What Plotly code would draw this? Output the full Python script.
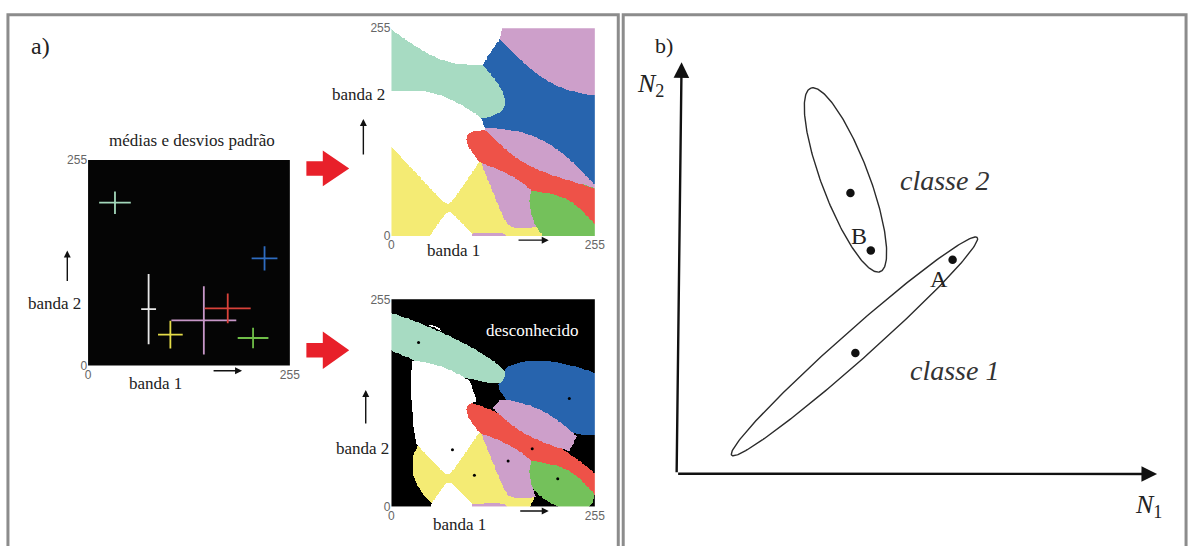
import numpy as np
import plotly.graph_objects as go

W, H = 1201, 546


def px(x):
    return x / W


def py(y):
    return 1 - y / H


# ---------------- Painel a: classes nas bandas 1 e 2 (0-255) ----------------
classes = ["verde-claro", "azul", "branco", "amarelo", "rosa", "vermelho", "verde"]
mean_b1 = [34.0, 223.0, 76.5, 104.0, 146.3, 176.5, 208.5]
mean_b2 = [202.0, 133.0, 70.0, 38.4, 56.0, 71.0, 34.2]
# desvios padrão mostrados pelas cruzes
cross_b1 = [20.0, 16.3, 9.4, 15.6, 41.0, 29.0, 19.4]
cross_b2 = [13.9, 15.1, 43.5, 17.3, 42.3, 18.5, 12.7]
# covariância de cada classe: desvios principais e orientação (graus)
sd_major = [40.3, 30.8, 52.0, 26.7, 48.3, 38.0, 17.6]
sd_minor = [7.5, 13.3, 14.5, 19.3, 19.3, 6.5, 10.0]
angle_deg = [-22, -16, 101, -20, 52, -30, -36]
threshold_sd = 3.0
band_ticks = [0, 255]

region_colors = ["#a7dbc2", "#2764ae", "#ffffff", "#f4eb74", "#cd9fca", "#ee5248", "#74c15b"]
unknown_color = "#000000"
cross_colors = ["#a3d8bb", "#2f6cc0", "#e8e8e8", "#e4dc48", "#c797c8", "#d9423a", "#6fbe48"]

# ---------------- Painel b ----------------
b_names = ["classe 2", "classe 1"]
b_cx = [170.7, 179.8]
b_cy = [301.5, 130.7]
b_a = [100.5, 167.0]
b_b = [24.0, 15.0]
b_ang = [110.4, 42.0]
b_label_x = [270.7, 280.7]
b_label_y = [300.7, 105.7]
pt_names = ["B", "A"]
pt_x = [175.7, 196.3, 279.0, 180.7]
pt_y = [288.0, 229.0, 219.7, 124.0]
pt_label_x = [184.0, 265.7]
pt_label_y = [244.0, 199.7]

# ---------------- classificação por máxima verossimilhança ----------------
grid = np.arange(256)
GX, GY = np.meshgrid(grid, grid)
scores, d2s = [], []
for i in range(len(classes)):
    th = np.radians(angle_deg[i])
    dx = GX - mean_b1[i]
    dy = GY - mean_b2[i]
    u = dx * np.cos(th) + dy * np.sin(th)
    v = -dx * np.sin(th) + dy * np.cos(th)
    d2 = (u / sd_major[i]) ** 2 + (v / sd_minor[i]) ** 2
    logdet = 2 * np.log(sd_major[i] * sd_minor[i])
    scores.append(-logdet - d2)
    d2s.append(d2)
scores = np.array(scores)
d2s = np.array(d2s)
ml = scores.argmax(0)
win_d2 = np.take_along_axis(d2s, ml[None], 0)[0]
ml_thr = np.where(win_d2 <= threshold_sd ** 2, ml, len(classes))

cols8 = region_colors + [unknown_color]
n = len(cols8)
cscale = []
for k, c in enumerate(cols8):
    cscale += [[k / n, c], [(k + 1) / n, c]]

fig = go.Figure()

for ax_x, ax_y, z in (("x2", "y2", ml), ("x3", "y3", ml_thr)):
    fig.add_trace(go.Heatmap(
        x=grid, y=grid, z=z, xaxis=ax_x, yaxis=ax_y,
        colorscale=cscale, zmin=-0.5, zmax=n - 0.5,
        showscale=False, hoverinfo="skip", zsmooth=False))

# médias nas regiões com limiar
fig.add_trace(go.Scatter(x=mean_b1, y=mean_b2, mode="markers", xaxis="x3", yaxis="y3",
                         marker=dict(size=3, color="#000"), hoverinfo="skip"))

# cruzes: médias e desvios padrão
for i in range(len(classes)):
    c = cross_colors[i]
    fig.add_trace(go.Scatter(
        x=[mean_b1[i]], y=[mean_b2[i]], mode="markers", xaxis="x", yaxis="y",
        marker=dict(size=2, color=c),
        error_x=dict(type="data", array=[cross_b1[i]], color=c, thickness=1.8, width=0),
        error_y=dict(type="data", array=[cross_b2[i]], color=c, thickness=1.8, width=0),
        hoverinfo="skip"))

# painel b: elipses
t = np.linspace(0, 2 * np.pi, 240)
for i in range(len(b_names)):
    th = np.radians(b_ang[i])
    ex = b_cx[i] + b_a[i] * np.cos(t) * np.cos(th) - b_b[i] * np.sin(t) * np.sin(th)
    ey = b_cy[i] + b_a[i] * np.cos(t) * np.sin(th) + b_b[i] * np.sin(t) * np.cos(th)
    fig.add_trace(go.Scatter(x=ex, y=ey, mode="lines", xaxis="x4", yaxis="y4",
                             line=dict(color="#2b2b2b", width=1.4), hoverinfo="skip"))
fig.add_trace(go.Scatter(x=pt_x, y=pt_y, mode="markers", xaxis="x4", yaxis="y4",
                         marker=dict(size=8.5, color="#111"), hoverinfo="skip"))

tickfont = dict(family="Liberation Sans", size=12, color="#666")
band_axis = dict(range=[0, 255], tickvals=band_ticks, ticktext=[str(v) for v in band_ticks],
                 showgrid=False, zeroline=False, showline=False, ticks="",
                 tickfont=tickfont, fixedrange=True)

layout = dict(
    width=W, height=H, margin=dict(l=0, r=0, t=0, b=0),
    paper_bgcolor="white", plot_bgcolor="rgba(0,0,0,0)", showlegend=False,
    xaxis=dict(band_axis, domain=[px(86), px(290)], anchor="y"),
    yaxis=dict(band_axis, domain=[py(368), py(157)], anchor="x"),
    xaxis2=dict(band_axis, domain=[px(392.7), px(598.3)], anchor="y2"),
    yaxis2=dict(band_axis, domain=[py(235), py(21.7)], anchor="x2"),
    xaxis3=dict(band_axis, domain=[px(392.7), px(598.3)], anchor="y3"),
    yaxis3=dict(band_axis, domain=[py(512.7), py(300)], anchor="x3"),
    xaxis4=dict(domain=[px(681), px(1167)], range=[0, 486], visible=False, anchor="y4"),
    yaxis4=dict(domain=[py(479), py(57)], range=[0, 422], visible=False, anchor="x4"),
)
fig.update_layout(**layout)

shapes = []
# molduras
for x0, x1 in ((5, 622), (627, 1196)):
    shapes.append(dict(type="rect", xref="paper", yref="paper", x0=px(x0), x1=px(x1),
                       y0=py(560), y1=py(8), line=dict(color="#8c8c8c", width=3),
                       fillcolor="rgba(0,0,0,0)"))
# fundo preto do gráfico das cruzes
shapes.append(dict(type="rect", xref="x domain", yref="y domain", x0=0, x1=1, y0=0, y1=1,
                   fillcolor="#050505", line=dict(width=0), layer="below"))


def block_arrow(x0, xs, xt, yc, sh, hh):
    pts = [(x0, yc - sh), (xs, yc - sh), (xs, yc - hh), (xt, yc), (xs, yc + hh), (xs, yc + sh), (x0, yc + sh)]
    d = "M " + " L ".join(f"{px(a):.5f},{py(b):.5f}" for a, b in pts) + " Z"
    return dict(type="path", xref="paper", yref="paper", path=d,
                fillcolor="#e8202a", line=dict(width=0))


shapes.append(block_arrow(306.7, 323.3, 350, 165.7, 7.5, 18.3))
shapes.append(block_arrow(306.7, 323.3, 350, 352.3, 7.5, 19.2))
fig.update_layout(shapes=shapes)

serif = "Liberation Serif"
ann = []


def text(x, y, s, size, color="#222", xanchor="center", family=serif):
    ann.append(dict(x=px(x), y=py(y), xref="paper", yref="paper", text=s, showarrow=False,
                    xanchor=xanchor, yanchor="middle", font=dict(family=family, size=size, color=color)))


def small_arrow(x0, y0, x1, y1):
    ann.append(dict(x=px(x1), y=py(y1), xref="paper", yref="paper", ax=x0 - x1, ay=y0 - y1,
                    text="", showarrow=True, arrowhead=2, arrowsize=1.0, arrowwidth=1.4,
                    arrowcolor="#111"))


text(37.5, 40, "a)", 24)
text(191.3, 137.5, "médias e desvios padrão", 17)
text(51.7, 304, "banda 2", 17)
text(154, 386, "banda 1", 17)
text(359, 90, "banda 2", 17)
text(455, 250, "banda 1", 17)
text(363, 453, "banda 2", 17)
text(462, 531, "banda 1", 17)
text(535, 331.7, "desconhecido", 17, color="#ffffff")
small_arrow(65, 282, 65, 250)
small_arrow(211.7, 373.3, 241.7, 373.3)
small_arrow(364.3, 152, 364.3, 115)
small_arrow(520, 239.3, 551.7, 239.3)
small_arrow(366.7, 428, 366.7, 393)
small_arrow(521.7, 517.3, 551.7, 517.3)

# painel b
text(668, 40, "b)", 22)
text(655, 80, "<i>N</i><sub>2</sub>", 26)
text(1158, 512, "<i>N</i><sub>1</sub>", 26)
for i in range(len(b_names)):
    ann.append(dict(x=b_label_x[i], y=b_label_y[i], xref="x4", yref="y4", text=f"<i>{b_names[i]}</i>",
                    showarrow=False, font=dict(family=serif, size=28, color="#333")))
for i in range(len(pt_names)):
    ann.append(dict(x=pt_label_x[i], y=pt_label_y[i], xref="x4", yref="y4", text=pt_names[i],
                    showarrow=False, font=dict(family=serif, size=24, color="#222")))
# eixos N1 e N2
ann.append(dict(x=485.7, y=-0.3, xref="x4", yref="y4", ax=0, ay=0, axref="x4", ayref="y4",
                text="", showarrow=True, arrowhead=2, arrowsize=1.3, arrowwidth=2.4, arrowcolor="#111"))
ann.append(dict(x=5, y=422.3, xref="x4", yref="y4", ax=0, ay=0, axref="x4", ayref="y4",
                text="", showarrow=True, arrowhead=2, arrowsize=1.3, arrowwidth=2.4, arrowcolor="#111"))
fig.update_layout(annotations=ann)

fig.write_html("out.html", config={"displayModeBar": False, "staticPlot": True},
               post_script="document.body.style.margin='0';document.body.style.overflow='hidden';")
